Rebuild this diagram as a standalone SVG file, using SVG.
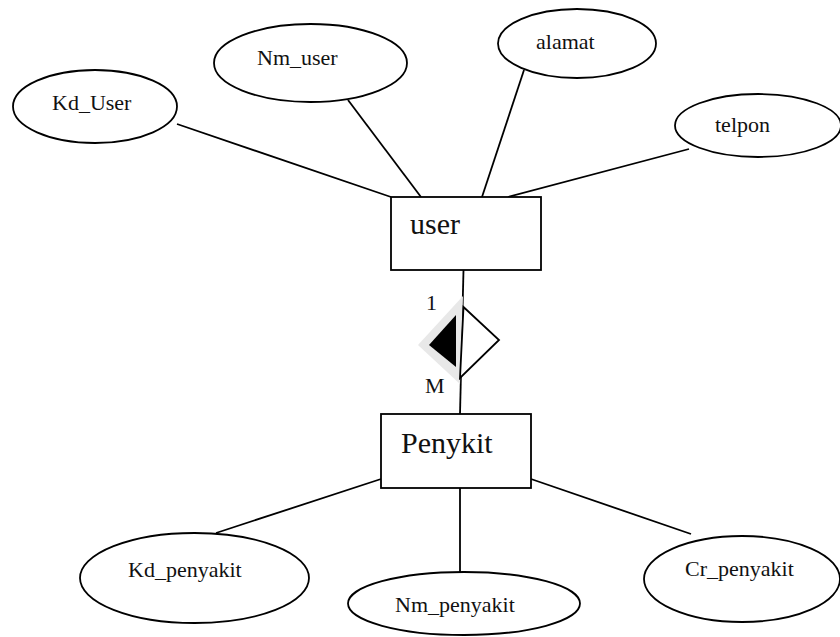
<svg xmlns="http://www.w3.org/2000/svg" width="840" height="637" viewBox="0 0 840 637">
  <style>
    .shape { fill: #ffffff; stroke: #000000; stroke-width: 1.8; }
    .link { stroke: #000000; stroke-width: 1.8; fill: none; }
    text { font-family: 'Liberation Serif', 'DejaVu Serif', serif; fill: #111111; }
    .attr { font-size: 22px; }
    .ent { font-size: 30px; }
    .card { font-size: 22px; }
  </style>
  <rect width="840" height="637" fill="#ffffff"/>

  <!-- connectors -->
  <g id="connectors">
    <line class="link" x1="177" y1="124" x2="391" y2="197"/>
    <line class="link" x1="348" y1="100" x2="421" y2="197"/>
    <line class="link" x1="524" y1="70" x2="482" y2="197"/>
    <line class="link" x1="689" y1="149" x2="508" y2="197"/>
    <line class="link" x1="463.5" y1="270" x2="460" y2="414"/>
    <line class="link" x1="381" y1="479" x2="216" y2="533"/>
    <line class="link" x1="460" y1="488" x2="460" y2="572"/>
    <line class="link" x1="531" y1="479" x2="691" y2="534"/>
  </g>

  <!-- relationship diamond: shaded left half, open right half -->
  <g id="rel_user_penyakit">
    <polygon points="463,296 418,345 460,384" fill="#e8e8e8"/>
    <polygon points="456,315 429,345 456,367" fill="#000000"/>
    <polygon points="463.5,307 499,340 460,378" fill="#ffffff" stroke="#000000" stroke-width="1.8"/>
    <text class="card" x="426" y="310">1</text>
    <text class="card" x="425" y="393">M</text>
  </g>

  <!-- entities -->
  <g id="user">
    <rect class="shape" x="391" y="197" width="150" height="73"/>
    <text class="ent" x="410" y="234">user</text>
  </g>
  <g id="penyakit">
    <rect class="shape" x="381" y="414" width="150" height="74"/>
    <text class="ent" x="401" y="453">Penykit</text>
  </g>

  <!-- attributes of user -->
  <g id="kd_user">
    <ellipse class="shape" cx="95" cy="106.5" rx="82" ry="36.5"/>
    <text class="attr" x="52" y="110">Kd_User</text>
  </g>
  <g id="nm_user">
    <ellipse class="shape" cx="310.5" cy="63" rx="96.5" ry="39"/>
    <text class="attr" x="257" y="65">Nm_user</text>
  </g>
  <g id="alamat">
    <ellipse class="shape" cx="577" cy="43.5" rx="79" ry="34.5"/>
    <text class="attr" x="536" y="49">alamat</text>
  </g>
  <g id="telpon">
    <ellipse class="shape" cx="758" cy="125.5" rx="83" ry="31.5"/>
    <text class="attr" x="715" y="132">telpon</text>
  </g>

  <!-- attributes of penyakit -->
  <g id="kd_penyakit">
    <ellipse class="shape" cx="194.5" cy="578" rx="114.5" ry="45"/>
    <text class="attr" x="128" y="577">Kd_penyakit</text>
  </g>
  <g id="nm_penyakit">
    <ellipse class="shape" cx="464" cy="603.5" rx="116" ry="31.5"/>
    <text class="attr" x="395" y="612">Nm_penyakit</text>
  </g>
  <g id="cr_penyakit">
    <ellipse class="shape" cx="742" cy="579" rx="98" ry="43"/>
    <text class="attr" x="685" y="576">Cr_penyakit</text>
  </g>
</svg>
